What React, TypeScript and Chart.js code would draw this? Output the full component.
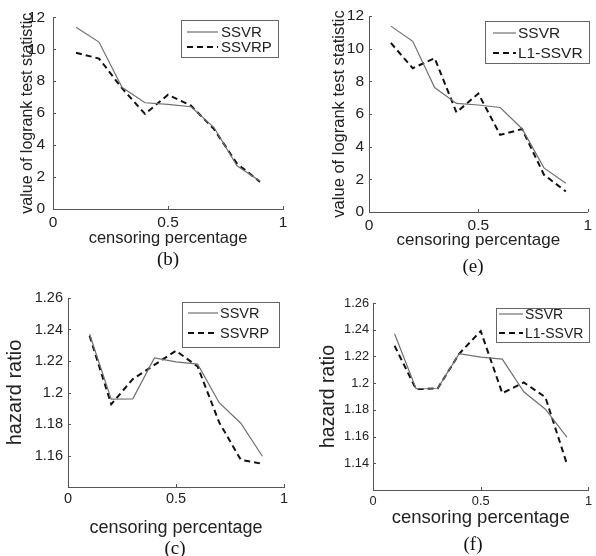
import React, { useEffect, useRef } from "react";
import { Chart, registerables } from "chart.js";

Chart.register(...registerables);

// ---------- data ----------
const censoring = [0.1, 0.2, 0.3, 0.4, 0.5, 0.6, 0.7, 0.8, 0.9];

const logrankSSVR = [11.38, 10.45, 7.62, 6.65, 6.55, 6.4, 5.1, 2.7, 1.76];
const logrankSSVRP = [9.78, 9.42, 7.56, 5.95, 7.15, 6.47, 5.0, 2.84, 1.7];
const logrankL1SSVR = [10.35, 8.8, 9.42, 6.1, 7.25, 4.72, 5.08, 2.28, 1.26];

const hazardSSVR = [1.237, 1.1958, 1.196, 1.222, 1.2195, 1.218, 1.1935, 1.1805, 1.1595];
const hazardSSVRP = [1.236, 1.1925, 1.2085, 1.2175, 1.2265, 1.2165, 1.181, 1.1573, 1.1547];
const hazardL1SSVR = [1.228, 1.1955, 1.196, 1.222, 1.239, 1.1925, 1.2005, 1.1895, 1.1395];

const xTicks = [0, 0.5, 1];
const logrankTicks = [0, 2, 4, 6, 8, 10, 12];
const hazardTicksC = [1.16, 1.18, 1.2, 1.22, 1.24, 1.26];
const hazardTicksF = [1.14, 1.16, 1.18, 1.2, 1.22, 1.24, 1.26];

const xTitle = "censoring percentage";
const logrankTitle = "value of logrank test statistic";
const hazardTitle = "hazard ratio";

// ---------- plugins ----------
const FONT = "'Liberation Sans', Arial, sans-serif";
const TEXT = "#222";
const AXIS = "#555";

const innerTicks = {
  id: "innerTicks",
  afterDraw(chart: any) {
    const { ctx, chartArea } = chart;
    const xs = chart.scales.x;
    const ys = chart.scales.y;
    const len = 3;
    ctx.save();
    ctx.strokeStyle = AXIS;
    ctx.lineWidth = 1;
    ctx.beginPath();
    xs.ticks.forEach((t: any) => {
      const px = Math.round(xs.getPixelForValue(t.value)) + 0.5;
      ctx.moveTo(px, chartArea.bottom);
      ctx.lineTo(px, chartArea.bottom - len);
    });
    ys.ticks.forEach((t: any) => {
      const py = Math.round(ys.getPixelForValue(t.value)) + 0.5;
      ctx.moveTo(chartArea.left, py);
      ctx.lineTo(chartArea.left + len, py);
    });
    ctx.stroke();
    ctx.restore();
  },
};

const boxLegend = {
  id: "boxLegend",
  afterDraw(chart: any, _args: any, opts: any) {
    if (!opts || !opts.box) return;
    const { ctx } = chart;
    const [bx, by, bw, bh] = opts.box;
    ctx.save();
    ctx.fillStyle = "#fff";
    ctx.fillRect(bx, by, bw, bh);
    ctx.strokeStyle = "#666";
    ctx.lineWidth = 1;
    ctx.strokeRect(bx + 0.5, by + 0.5, bw, bh);
    chart.data.datasets.forEach((ds: any, i: number) => {
      const y = opts.rows[i];
      ctx.beginPath();
      ctx.setLineDash(ds.borderDash || []);
      ctx.strokeStyle = ds.borderColor;
      ctx.lineWidth = ds.borderWidth;
      ctx.moveTo(opts.sample[0], y);
      ctx.lineTo(opts.sample[1], y);
      ctx.stroke();
      ctx.setLineDash([]);
      ctx.fillStyle = TEXT;
      ctx.font = `${opts.fontSize}px ${FONT}`;
      ctx.textBaseline = "middle";
      ctx.textAlign = "left";
      ctx.fillText(ds.label, opts.textX, y + 1);
    });
    ctx.restore();
  },
};

// ---------- panel ----------
type PanelProps = {
  left: number;
  top: number;
  width: number;
  height: number;
  area: [number, number, number, number]; // left, top, right, bottom (canvas local)
  yMin: number;
  yMax: number;
  yTickValues: number[];
  series: { label: string; values: number[]; dashed: boolean }[];
  yTitle: string;
  yTitleSize: number;
  yTitleX: number;
  xTitleSize: number;
  xTitleY: number;
  tickSize: number;
  yTickPad: number;
  xTickPad: number;
  legend: any;
};

function Panel(p: PanelProps) {
  const ref = useRef<HTMLCanvasElement | null>(null);
  useEffect(() => {
    if (!ref.current) return;
    const [aL, aT, aR, aB] = p.area;
    const yLh = p.yTitleSize * 1.2;
    const xLh = p.xTitleSize * 1.2;
    const chart = new Chart(ref.current, {
      type: "line",
      data: {
        datasets: p.series.map((s) => ({
          label: s.label,
          data: censoring.map((x, i) => ({ x, y: s.values[i] })),
          borderColor: s.dashed ? "#111" : "#707070",
          borderWidth: s.dashed ? 2 : 1.2,
          borderDash: s.dashed ? [6, 4] : [],
          pointRadius: 0,
          fill: false,
          tension: 0,
        })),
      },
      options: {
        animation: false,
        responsive: false,
        devicePixelRatio: 1,
        layout: { padding: { left: 0, top: aT, right: p.width - aR, bottom: 0 } },
        plugins: {
          legend: { display: false },
          tooltip: { enabled: false },
          boxLegend: p.legend,
        } as any,
        scales: {
          x: {
            type: "linear",
            min: 0,
            max: 1,
            grid: { display: false, drawTicks: false, tickLength: 0 },
            border: { display: true, color: AXIS, width: 1 },
            afterBuildTicks: (s: any) => {
              s.ticks = xTicks.map((v) => ({ value: v }));
            },
            afterFit: (s: any) => {
              s.height = p.height - aB;
            },
            ticks: {
              font: { family: FONT, size: p.tickSize },
              color: TEXT,
              padding: p.xTickPad,
              maxRotation: 0,
              minRotation: 0,
              autoSkip: false,
              callback: (v: any) => String(v),
            },
            title: {
              display: true,
              text: xTitle,
              font: { family: FONT, size: p.xTitleSize },
              color: TEXT,
              padding: { top: 0, bottom: p.height - p.xTitleY - xLh / 2 },
            },
          },
          y: {
            type: "linear",
            min: p.yMin,
            max: p.yMax,
            grid: { display: false, drawTicks: false, tickLength: 0 },
            border: { display: true, color: AXIS, width: 1 },
            afterBuildTicks: (s: any) => {
              s.ticks = p.yTickValues.map((v) => ({ value: v }));
            },
            afterFit: (s: any) => {
              s.width = aL;
            },
            ticks: {
              font: { family: FONT, size: p.tickSize },
              color: TEXT,
              padding: p.yTickPad,
              autoSkip: false,
              callback: (v: any) => String(v),
            },
            title: {
              display: true,
              text: p.yTitle,
              font: { family: FONT, size: p.yTitleSize },
              color: TEXT,
              padding: { top: p.yTitleX - yLh / 2, bottom: 0 },
            },
          },
        },
      } as any,
      plugins: [innerTicks, boxLegend],
    });
    return () => chart.destroy();
  }, []);
  return (
    <canvas
      ref={ref}
      width={p.width}
      height={p.height}
      style={{ position: "absolute", left: p.left, top: p.top, width: p.width, height: p.height }}
    />
  );
}

function Caption({ x, y, text }: { x: number; y: number; text: string }) {
  return (
    <div
      style={{
        position: "absolute",
        left: x,
        top: y,
        transform: "translate(-50%, -50%)",
        fontFamily: "'Liberation Serif', 'Times New Roman', serif",
        fontSize: 19,
        color: "#111",
        whiteSpace: "nowrap",
        lineHeight: 1,
      }}
    >
      {text}
    </div>
  );
}

export default function App() {
  return (
    <div
      style={{
        position: "absolute",
        left: 0,
        top: 0,
        width: 596,
        height: 556,
        background: "#fff",
        overflow: "hidden",
      }}
    >
      <Panel
        left={0}
        top={0}
        width={296}
        height={256}
        area={[53, 16, 283, 209]}
        yMin={0}
        yMax={12}
        yTickValues={logrankTicks}
        series={[
          { label: "SSVR", values: logrankSSVR, dashed: false },
          { label: "SSVRP", values: logrankSSVRP, dashed: true },
        ]}
        yTitle={logrankTitle}
        yTitleSize={16}
        yTitleX={28}
        xTitleSize={16.5}
        xTitleY={238}
        tickSize={15.5}
        yTickPad={8}
        xTickPad={4}
        legend={{ box: [181, 20, 97, 37], rows: [32, 47], sample: [187, 218], textX: 221, fontSize: 15 }}
      />
      <Panel
        left={296}
        top={0}
        width={300}
        height={256}
        area={[73, 16, 297, 212]}
        yMin={0}
        yMax={12}
        yTickValues={logrankTicks}
        series={[
          { label: "SSVR", values: logrankSSVR, dashed: false },
          { label: "L1-SSVR", values: logrankL1SSVR, dashed: true },
        ]}
        yTitle={logrankTitle}
        yTitleSize={16.5}
        yTitleX={43}
        xTitleSize={17}
        xTitleY={240}
        tickSize={15.5}
        yTickPad={5}
        xTickPad={4}
        legend={{ box: [189, 21, 104, 42], rows: [33, 53], sample: [197, 220], textX: 222, fontSize: 15.5 }}
      />
      <Panel
        left={0}
        top={280}
        width={296}
        height={270}
        area={[68, 18, 284, 207]}
        yMin={1.14}
        yMax={1.26}
        yTickValues={hazardTicksC}
        series={[
          { label: "SSVR", values: hazardSSVR, dashed: false },
          { label: "SSVRP", values: hazardSSVRP, dashed: true },
        ]}
        yTitle={hazardTitle}
        yTitleSize={20}
        yTitleX={15}
        xTitleSize={18}
        xTitleY={248}
        tickSize={14.5}
        yTickPad={5}
        xTickPad={3}
        legend={{ box: [182, 22, 97, 45], rows: [33, 53], sample: [188, 218], textX: 220, fontSize: 14.5 }}
      />
      <Panel
        left={296}
        top={280}
        width={300}
        height={270}
        area={[77, 23, 297, 210]}
        yMin={1.12}
        yMax={1.26}
        yTickValues={hazardTicksF}
        series={[
          { label: "SSVR", values: hazardSSVR, dashed: false },
          { label: "L1-SSVR", values: hazardL1SSVR, dashed: true },
        ]}
        yTitle={hazardTitle}
        yTitleSize={19.5}
        yTitleX={33}
        xTitleSize={18.5}
        xTitleY={238}
        tickSize={12.8}
        yTickPad={4}
        xTickPad={4}
        legend={{ box: [200, 28, 93, 34], rows: [34, 53], sample: [203, 227], textX: 229, fontSize: 14 }}
      />
      <Caption x={168} y={258} text="(b)" />
      <Caption x={473} y={265} text="(e)" />
      <Caption x={175} y={547} text="(c)" />
      <Caption x={473} y={543} text="(f)" />
    </div>
  );
}
